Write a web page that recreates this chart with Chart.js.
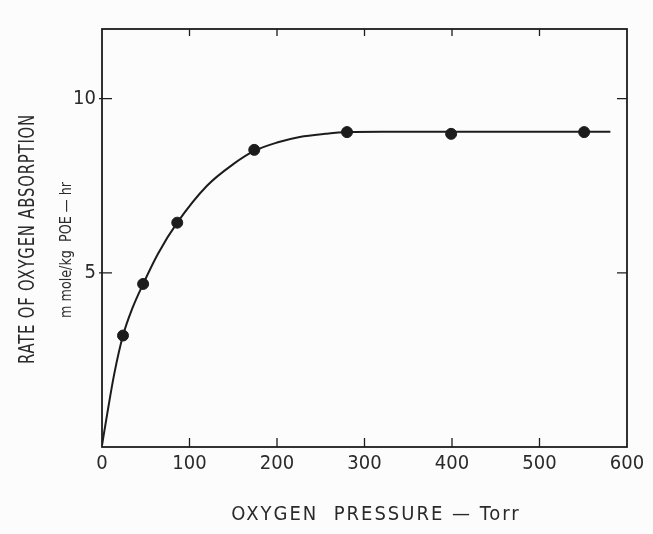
<!DOCTYPE html>
<html>
<head>
<meta charset="utf-8">
<script src="https://cdn.jsdelivr.net/npm/chart.js@4/dist/chart.umd.min.js"></script>
<style>
  html, body { margin: 0; padding: 0; background: #fcfcfc; }
  #wrap { width: 653px; height: 534px; position: relative; }
</style>
</head>
<body>
<div id="wrap"><canvas id="absorptionChart"></canvas></div>
<script>
// measured points (oxygen pressure, rate)
var pressure = [24, 47, 86, 174, 280, 399, 551];
var rate = [3.2, 4.68, 6.44, 8.53, 9.04, 8.99, 9.04];

// hand-drawn curve
var curveX = [0, 6, 14, 24, 35, 47, 64, 86, 120, 150, 174, 200, 226, 255, 280, 320, 400, 551, 581];
var curveY = [0.05, 0.96, 2.1, 3.2, 4.0, 4.68, 5.55, 6.44, 7.5, 8.12, 8.5, 8.74, 8.9, 8.99, 9.04, 9.05, 9.05, 9.05, 9.05];

var xTicks = [0, 100, 200, 300, 400, 500, 600];
var yTicks = [5, 10];

var ink = '#1c1c1c';
var labelFont = '"DejaVu Sans Condensed", "DejaVu Sans", sans-serif';

function toXY(xs, ys) {
    return xs.map(function (x, i) { return { x: x, y: ys[i] }; });
}

// frame, inward ticks and axis titles
var framePlugin = {
    id: 'frame',
    afterDraw: function (chart) {
        var ctx = chart.ctx;
        var a = chart.chartArea;
        var xs = chart.scales.x, ys = chart.scales.y;
        ctx.save();
        ctx.strokeStyle = ink;
        ctx.lineWidth = 1.8;
        ctx.strokeRect(a.left, a.top, a.right - a.left, a.bottom - a.top);

        ctx.lineWidth = 1.3;
        xTicks.forEach(function (v) {
            if (v === 0 || v === 600) return;
            var px = xs.getPixelForValue(v);
            ctx.beginPath();
            ctx.moveTo(px, a.bottom); ctx.lineTo(px, a.bottom - 9);
            ctx.moveTo(px, a.top); ctx.lineTo(px, a.top + 7);
            ctx.stroke();
        });
        yTicks.forEach(function (v) {
            var py = ys.getPixelForValue(v);
            ctx.beginPath();
            ctx.moveTo(a.left - 3, py); ctx.lineTo(a.left + 10, py);
            ctx.moveTo(a.right, py); ctx.lineTo(a.right - 10, py);
            ctx.stroke();
        });

        ctx.fillStyle = '#2a2a2a';
        ctx.textAlign = 'center';
        ctx.textBaseline = 'middle';

        // x title
        ctx.font = '20px ' + labelFont;
        ctx.letterSpacing = '2px';
        ctx.fillText('OXYGEN  PRESSURE — Torr', 376, 515);

        // y title, two lines
        ctx.translate(29, 239);
        ctx.rotate(-Math.PI / 2);
        ctx.font = '21px ' + labelFont;
        ctx.letterSpacing = '1px';
        ctx.fillText('RATE OF OXYGEN ABSORPTION', 0, 0, 250);
        ctx.font = '16px ' + labelFont;
        ctx.letterSpacing = '0px';
        ctx.fillText('m mole/kg  POE — hr', -11, 38, 136);
        ctx.restore();
    }
};

var ctx = document.getElementById('absorptionChart').getContext('2d');
var absorptionChart = new Chart(ctx, {
    type: 'scatter',
    data: {
        datasets: [{
            label: 'curve',
            data: toXY(curveX, curveY),
            showLine: true,
            borderColor: ink,
            borderWidth: 2,
            pointRadius: 0,
            cubicInterpolationMode: 'monotone',
            fill: false
        }, {
            label: 'measured',
            data: toXY(pressure, rate),
            showLine: false,
            backgroundColor: ink,
            borderColor: ink,
            pointRadius: 5.5,
            pointHoverRadius: 5.5
        }]
    },
    options: {
        responsive: true,
        maintainAspectRatio: false,
        animation: false,
        events: [],
        layout: { padding: { left: 0, right: 26, top: 29, bottom: 0 } },
        plugins: {
            legend: { display: false },
            tooltip: { enabled: false }
        },
        scales: {
            x: {
                type: 'linear',
                min: 0,
                max: 600,
                afterFit: function (scale) { scale.height = 87; },
                grid: { display: true, drawOnChartArea: false, drawTicks: false },
                border: { display: false },
                ticks: {
                    stepSize: 100,
                    padding: 5,
                    color: '#2a2a2a',
                    font: { family: labelFont, size: 20 }
                }
            },
            y: {
                type: 'linear',
                min: 0,
                max: 12,
                afterFit: function (scale) { scale.width = 102; },
                afterBuildTicks: function (scale) {
                    scale.ticks = yTicks.map(function (v) { return { value: v }; });
                },
                grid: { display: true, drawOnChartArea: false, drawTicks: false },
                border: { display: false },
                ticks: {
                    padding: 6,
                    color: '#2a2a2a',
                    font: { family: labelFont, size: 20 }
                }
            }
        }
    },
    plugins: [framePlugin]
});
</script>
</body>
</html>
